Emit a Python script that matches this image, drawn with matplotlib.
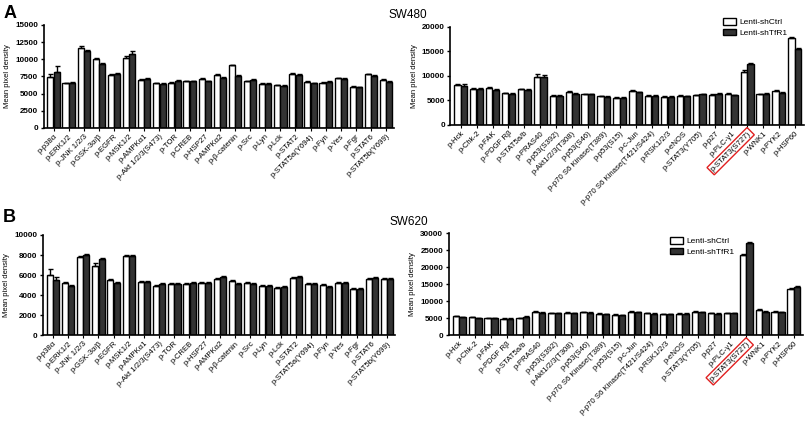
import numpy as np
import matplotlib
matplotlib.use("Agg")
from matplotlib import pyplot as plt
from matplotlib.patches import Patch

plt.rcParams['font.family'] = ['Liberation Sans', 'DejaVu Sans']

# category labels
left_labels = ['p-p38α', 'p-ERK1/2', 'p-JNK 1/2/3', 'p-GSK-3α/β', 'p-EGFR', 'p-MSK1/2',
               'p-AMPKα1', 'p-Akt 1/2/3(S473)', 'p-TOR', 'p-CREB', 'p-HSP27', 'p-AMPKα2',
               'p-β-catenin', 'p-Src', 'p-Lyn', 'p-Lck', 'p-STAT2', 'p-STAT5a(Y694)',
               'p-Fyn', 'p-Yes', 'p-Fgr', 'p-STAT6', 'p-STAT5b(Y699)']
right_labels = ['p-Hck', 'p-Chk-2', 'p-FAK', 'p-PDGF Rβ', 'p-STAT5a/b', 'p-PRAS40',
                'p-p53(S392)', 'p-Akt1/2/3(T308)', 'p-p53(S46)', 'p-p70 S6 Kinase(T389)',
                'p-p53(S15)', 'p-c-Jun', 'p-p70 S6 Kinase(T421/S424)', 'p-RSK1/2/3',
                'p-eNOS', 'p-STAT3(Y705)', 'p-p27', 'p-PLC-γ1', 'p-STAT3(S727)',
                'p-WNK1', 'p-PYK2', 'p-HSP60']

# SW480 values
sw480_left_ctrl = [7400, 6500, 11700, 10000, 7700, 10200, 7000, 6500, 6600, 6800, 7100, 7700,
                   9100, 6800, 6400, 6200, 7900, 6700, 6600, 7200, 6000, 7800, 7000]
sw480_left_tfr = [8200, 6600, 11200, 9300, 7900, 10700, 7100, 6400, 6900, 6800, 6800, 7300,
                  7600, 7000, 6400, 6100, 7700, 6500, 6700, 7100, 5900, 7600, 6700]
sw480_left_ctrl_err = [500, 100, 150, 150, 100, 300, 100, 80, 100, 80, 150, 100,
                       100, 100, 80, 80, 100, 150, 80, 100, 80, 100, 100]
sw480_left_tfr_err = [800, 100, 100, 100, 100, 500, 100, 80, 100, 80, 100, 100,
                      100, 100, 80, 80, 100, 100, 100, 100, 80, 100, 100]

sw480_right_ctrl = [8100, 7400, 7600, 6500, 7300, 9800, 6000, 6800, 6300, 5900, 5600, 6900,
                    6000, 5800, 6000, 6100, 6200, 6300, 10900, 6300, 7000, 17800]
sw480_right_tfr = [8000, 7400, 7200, 6400, 7200, 9800, 6000, 6400, 6300, 5800, 5600, 6700,
                   6000, 5800, 5900, 6300, 6400, 6100, 12400, 6400, 6600, 15600]
sw480_right_ctrl_err = [200, 100, 200, 100, 100, 500, 100, 200, 100, 100, 100, 150,
                        100, 100, 100, 100, 150, 150, 300, 100, 200, 200]
sw480_right_tfr_err = [300, 100, 100, 100, 100, 400, 100, 100, 100, 100, 100, 100,
                       100, 100, 100, 100, 150, 100, 150, 150, 100, 150]

# SW620 values
sw620_left_ctrl = [6000, 5200, 7800, 6900, 5500, 7900, 5300, 4900, 5100, 5100, 5200, 5600,
                   5400, 5200, 4900, 4700, 5700, 5100, 5000, 5200, 4600, 5600, 5600]
sw620_left_tfr = [5500, 4900, 8000, 7600, 5200, 7900, 5300, 5100, 5100, 5200, 5200, 5800,
                  5100, 5100, 4900, 4800, 5800, 5100, 4800, 5200, 4600, 5700, 5600]
sw620_left_ctrl_err = [600, 100, 100, 300, 100, 100, 80, 80, 80, 80, 80, 100,
                       100, 80, 80, 80, 100, 80, 100, 80, 80, 100, 80]
sw620_left_tfr_err = [300, 80, 100, 150, 80, 100, 80, 80, 80, 80, 80, 100,
                      80, 80, 80, 80, 100, 80, 80, 80, 80, 100, 80]

sw620_right_ctrl = [5500, 5200, 5000, 4800, 5000, 6900, 6500, 6600, 6700, 6300, 6000, 6900,
                    6400, 6200, 6300, 6800, 6400, 6500, 23500, 7300, 6900, 13700]
sw620_right_tfr = [5300, 5000, 4900, 4800, 5300, 6600, 6400, 6500, 6600, 6100, 5900, 6700,
                   6300, 6200, 6300, 6700, 6300, 6500, 27000, 6800, 6700, 14200]
sw620_right_ctrl_err = [200, 150, 150, 100, 150, 300, 150, 150, 200, 150, 100, 200,
                        150, 150, 150, 200, 150, 150, 300, 500, 200, 300]
sw620_right_tfr_err = [150, 150, 150, 100, 200, 200, 150, 150, 150, 150, 100, 150,
                       150, 150, 150, 150, 150, 150, 300, 300, 150, 300]


def draw_panel(ax, labels, ctrl, tfr, ctrl_err, tfr_err, ymax, ystep, highlight=None):
    x = np.arange(len(labels))
    w = 0.40
    ekw = dict(elinewidth=1.0, capsize=1.8, capthick=1.0, ecolor='black')
    ax.bar(x - w / 2 - 0.01, ctrl, w, color='white', edgecolor='black', linewidth=1.0,
           yerr=[np.zeros(len(ctrl)), ctrl_err], error_kw=ekw, label='Lenti-shCtrl')
    ax.bar(x + w / 2 + 0.01, tfr, w, color='#333333', edgecolor='black', linewidth=1.0,
           yerr=[np.zeros(len(tfr)), tfr_err], error_kw=ekw, label='Lenti-shTfR1')
    ax.set_xlim(-0.65, len(labels) - 0.45)
    ax.set_ylim(0, ymax)
    ax.set_yticks(np.arange(0, ymax + 1, ystep))
    ax.set_xticks(x)
    ax.set_xticklabels(labels, rotation=45, ha='right', rotation_mode='anchor', fontsize=5.6)
    ax.tick_params(axis='y', labelsize=5.8, length=2.5, width=1.0, pad=1.5)
    ax.tick_params(axis='x', length=2, width=0.8, pad=1.5)
    for lbl in ax.get_yticklabels():
        lbl.set_fontweight('bold')
    for s in ['top', 'right']:
        ax.spines[s].set_visible(False)
    for s in ['left', 'bottom']:
        ax.spines[s].set_linewidth(1.2)
    ax.set_ylabel('Mean pixel density', fontsize=5.5, labelpad=3)
    if highlight is not None:
        lbl = ax.get_xticklabels()[highlight]
        lbl.set_bbox(dict(facecolor='none', edgecolor='#e02020', linewidth=1.0, pad=1.2))


fig = plt.figure(figsize=(8.1, 4.28), dpi=100)

ax1 = fig.add_axes([0.054, 0.701, 0.433, 0.241])
draw_panel(ax1, left_labels, sw480_left_ctrl, sw480_left_tfr,
           sw480_left_ctrl_err, sw480_left_tfr_err, 15000, 2500)

ax2 = fig.add_axes([0.556, 0.708, 0.436, 0.229])
draw_panel(ax2, right_labels, sw480_right_ctrl, sw480_right_tfr,
           sw480_right_ctrl_err, sw480_right_tfr_err, 20000, 5000, highlight=18)

ax3 = fig.add_axes([0.053, 0.217, 0.435, 0.234])
draw_panel(ax3, left_labels, sw620_left_ctrl, sw620_left_tfr,
           sw620_left_ctrl_err, sw620_left_tfr_err, 10000, 2000)

ax4 = fig.add_axes([0.554, 0.217, 0.437, 0.238])
draw_panel(ax4, right_labels, sw620_right_ctrl, sw620_right_tfr,
           sw620_right_ctrl_err, sw620_right_tfr_err, 30000, 5000, highlight=18)

handles = [Patch(facecolor='white', edgecolor='black', linewidth=1.0, label='Lenti-shCtrl'),
           Patch(facecolor='#333333', edgecolor='black', linewidth=1.0, label='Lenti-shTfR1')]
ax2.legend(handles=handles, loc='upper right', bbox_to_anchor=(0.955, 1.09), frameon=False,
           fontsize=6, handlelength=1.6, handleheight=0.8, labelspacing=0.3, handletextpad=0.4,
           borderaxespad=0, borderpad=0)
ax4.legend(handles=handles, loc='upper left', bbox_to_anchor=(0.624, 0.96), frameon=False,
           fontsize=6, handlelength=1.6, handleheight=0.8, labelspacing=0.3, handletextpad=0.4,
           borderaxespad=0, borderpad=0)

fig.text(0.004, 0.968, 'A', fontsize=13, fontweight='bold', va='center')
fig.text(0.004, 0.492, 'B', fontsize=13, fontweight='bold', va='center')
fig.text(0.503, 0.965, 'SW480', fontsize=8.5, ha='center', va='center')
fig.text(0.505, 0.482, 'SW620', fontsize=8.5, ha='center', va='center')

fig.savefig('out.png', dpi=100)
